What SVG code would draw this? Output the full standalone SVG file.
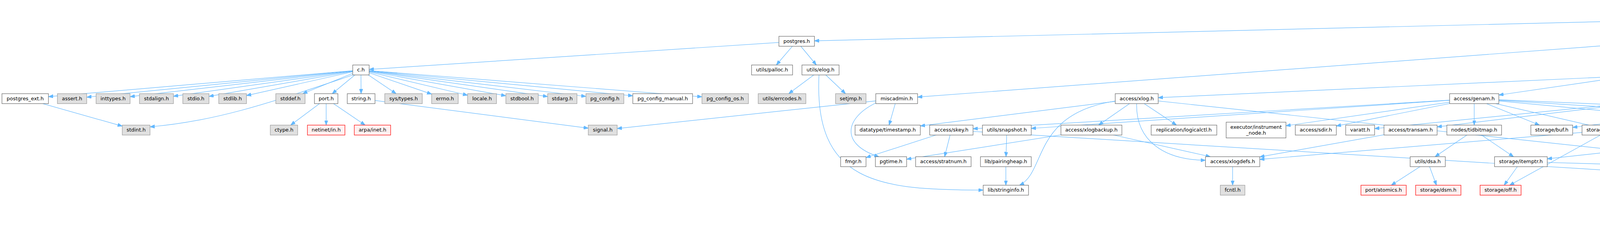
<svg xmlns="http://www.w3.org/2000/svg" width="7743" height="579" viewBox="0 0 7743 579">
<style>
text{font-family:"DejaVu Sans","Liberation Sans",sans-serif;font-size:12.9px;text-anchor:middle;fill:#000}
rect{stroke-width:1.2}
.w rect{fill:#fff;stroke:#666}
.g rect{fill:#e0e0e0;stroke:#999}
.r rect{fill:#fff0f0;stroke:#f00}
.root rect{fill:#999;stroke:#666}
#edges path{fill:none;stroke:#63b8ff;stroke-width:1.2;marker-end:url(#arr)}
</style>
<defs>
<marker id="arr" markerUnits="userSpaceOnUse" markerWidth="12" markerHeight="9" viewBox="0 0 12 9" refX="12" refY="4.5" orient="auto"><path d="M0,0 L12,4.5 L0,9 z" fill="#63b8ff" stroke="#63b8ff"/></marker>
</defs>
<rect width="7743" height="579" fill="#fff"/>
<g id="edges">
<path d="M5328.5,25.5 L2085,104.6"/>
<path d="M5328.5,25.5 L2349,248.7"/>
<path d="M5328.5,25.5 L3837,243.5"/>
<path d="M5328.5,25.5 L4343.1,240"/>
<path d="M5328.5,25.5 L4787.4,166.5"/>
<path d="M5328.5,25.5 L4856.6,240"/>
<path d="M5328.5,25.5 L5055.7,240"/>
<path d="M5328.5,25.5 L5218.5,166.5"/>
<path d="M5328.5,25.5 L5395.5,166.5"/>
<path d="M5328.5,25.5 L5654.1,240"/>
<path d="M5328.5,25.5 L6061,101.5"/>
<path d="M5328.5,25.5 L6476,100.1"/>
<path d="M5328.5,25.5 L7165,102.4"/>
<path d="M5328.5,25.5 L7416,102.5"/>
<path d="M5328.5,25.5 L7615,103.6"/>
<path d="M5328.5,25.5 L6391,170.1"/>
<path d="M2039.5,105.75 L945,177.9"/>
<path d="M2039.5,105.75 L1987.4,166.5"/>
<path d="M2039.5,105.75 L2089.9,166.5"/>
<path d="M924,179.25 L124,247.7"/>
<path d="M924,179.25 L222,249"/>
<path d="M924,179.25 L333,247.7"/>
<path d="M924,179.25 L444,246.6"/>
<path d="M924,179.25 L535,246.9"/>
<path d="M924,179.25 L631,244.8"/>
<path d="M924,179.25 L774.8,240"/>
<path d="M924,179.25 L850.4,240"/>
<path d="M924,179.25 L924.4,240"/>
<path d="M924,179.25 L1014.1,240"/>
<path d="M924,179.25 L1105,241.1"/>
<path d="M924,179.25 L1197,244"/>
<path d="M924,179.25 L1295,245.4"/>
<path d="M924,179.25 L1402,247.4"/>
<path d="M924,179.25 L1500,247"/>
<path d="M924,179.25 L1620,245.5"/>
<path d="M924,179.25 L1797,248.1"/>
<path d="M910,190 C700,260 560,310 384,325"/>
<path d="M64.5,252.75 L313,323.2"/>
<path d="M835,252.75 L744.1,320.5"/>
<path d="M835,252.75 L835,320.5"/>
<path d="M835,252.75 L934.7,320.5"/>
<path d="M924.5,252.75 L1506,328.4"/>
<path d="M2100.5,179.25 L2019.1,240"/>
<path d="M2100.5,179.25 L2164.6,240"/>
<path d="M2097,185 C2080,470 2250,487 2517,487"/>
<path d="M2295.5,252.75 L2276.1,320.5"/>
<path d="M2250,260 C2160,300 2150,370 2250,401.5"/>
<path d="M2295.5,252.75 L1580,329.3"/>
<path d="M2910,252.75 L2812.4,320.5"/>
<path d="M2910,252.75 L3011.8,320.5"/>
<path d="M2910,260 C2905,360 2980,410 3086,410.5"/>
<path d="M2860,258 C2640,290 2680,440 2610,474.5"/>
<path d="M2910,252.75 L2356,322.7"/>
<path d="M2910,252.75 L5038,480.8"/>
<path d="M2794,333.25 L3098.6,401.5"/>
<path d="M2794,333.25 L2321,407.9"/>
<path d="M3155.5,414.25 L3155.5,474.5"/>
<path d="M3611,333.25 L3225,401.9"/>
<path d="M4120.5,333.25 L3225,408.4"/>
<path d="M4120.5,333.25 L3864.6,474.5"/>
<path d="M4120.5,333.25 L6387,483.2"/>
<path d="M3774,252.75 L2491,329.9"/>
<path d="M3774,252.75 L2640,329"/>
<path d="M3774,252.75 L3292,322.2"/>
<path d="M3774,252.75 L3421,322.8"/>
<path d="M3774,252.75 L3774,320.5"/>
<path d="M3774,252.75 L3941.1,320.5"/>
<path d="M3774,252.75 L4579,328"/>
<path d="M3774,252.75 L4969,328.7"/>
<path d="M3774,252.75 L5574,330.6"/>
<path d="M3774,252.75 L4734.3,474.5"/>
<path d="M4284.5,252.75 L4579.5,320.5"/>
<path d="M4284.5,252.75 L3679,325.1"/>
<path d="M4284.5,252.75 L3519,329.5"/>
<path d="M4284.5,252.75 L4284.5,320.5"/>
<path d="M4284.5,252.75 L4146.5,320.5"/>
<path d="M4284.5,252.75 L4835.8,401.5"/>
<path d="M4284.5,333.25 L4284.5,401.5"/>
<path d="M4614,252.75 L4631.7,320.5"/>
<path d="M4614,252.75 L4511.7,320.5"/>
<path d="M4614,252.75 L4026,326.5"/>
<path d="M4614,252.75 L4861.8,401.5"/>
<path d="M4738.5,179.25 L4635.6,240"/>
<path d="M4738.5,179.25 L4643.6,320.5"/>
<path d="M4738.5,179.25 L5574,322.8"/>
<path d="M4828.5,252.75 L4665.6,320.5"/>
<path d="M4828.5,252.75 L4791.6,474.5"/>
<path d="M4828.5,252.75 L4942,474.5"/>
<path d="M4828.5,252.75 L5083.3,474.5"/>
<path d="M5039.5,252.75 L5040.4,320.5"/>
<path d="M5039.5,252.75 L5092.9,401.5"/>
<path d="M5039.5,252.75 L5574,325"/>
<path d="M5209.5,252.75 L5067.3,320.5"/>
<path d="M5209.5,252.75 L4691,325.4"/>
<path d="M5209.5,252.75 L5432.1,320.5"/>
<path d="M5209.5,252.75 L5574,321.7"/>
<path d="M5208.5,179.25 L5209.5,240"/>
<path d="M5401.5,179.25 L5242.8,240"/>
<path d="M5401.5,179.25 L5400.7,240"/>
<path d="M5400.5,252.75 L5299.5,320.5"/>
<path d="M5400.5,252.75 L5462.4,320.5"/>
<path d="M5400.5,252.75 L5597.9,320.5"/>
<path d="M5673.5,252.75 L5641.1,320.5"/>
<path d="M5673.5,252.75 L5611.8,401.5"/>
<path d="M5474,333.25 L5345.5,401.5"/>
<path d="M5474,333.25 L5585.6,401.5"/>
<path d="M5474,333.25 L5156.8,401.5"/>
<path d="M5474,333.25 L5979,404.3"/>
<path d="M5474,333.25 L5438.7,474.5"/>
<path d="M5474,333.25 L5258.9,474.5"/>
<path d="M5635,333.25 L4950,407"/>
<path d="M5635,333.25 L5452,474.5"/>
<path d="M5635,333.25 L5984.7,401.5"/>
<path d="M5097.5,414.25 L4974.5,474.5"/>
<path d="M5097.5,414.25 L4843.3,474.5"/>
<path d="M5097.5,414.25 L5097.9,474.5"/>
<path d="M5097.5,414.25 L5376.5,474.5"/>
<path d="M4883,414.25 L4661,474.5"/>
<path d="M4883,414.25 L4937.1,474.5"/>
<path d="M4883,414.25 L5060.5,474.5"/>
<path d="M4614,487.25 L4614,547.5"/>
<path d="M4614,487.25 L7077,558.4"/>
<path d="M5098,487.25 L5214.4,547.5"/>
<path d="M5239.5,487.25 L5239,547.5"/>
<path d="M5435.5,487.25 L5273.3,547.5"/>
<path d="M4635,333.25 L3961,406.9"/>
<path d="M3893.5,414.25 L3850.6,474.5"/>
<path d="M3893.5,414.25 L6387,485.5"/>
<path d="M3774,333.25 L3673.7,401.5"/>
<path d="M3774,333.25 L3874.7,401.5"/>
<path d="M3655,414.25 L3561.7,474.5"/>
<path d="M3655,414.25 L3677.3,474.5"/>
<path d="M2435.5,333.25 L2217,403.8"/>
<path d="M2435.5,333.25 L2418.2,401.5"/>
<path d="M2435.5,333.25 L4884,483.3"/>
<path d="M2577.5,333.25 L2575.4,401.5"/>
<path d="M2575,414.25 L2575,474.5"/>
<path d="M6102,105.75 L2965,250.2"/>
<path d="M6102,105.75 L4933.4,401.5"/>
<path d="M6102,105.75 L6396.3,166.5"/>
<path d="M6102,105.75 L6783.8,240"/>
<path d="M6102,105.75 L6796,172.3"/>
<path d="M6102,105.75 L5952,166.5"/>
<path d="M6102,105.75 L5457.8,474.5"/>
<path d="M6102,105.75 L5627,401.5"/>
<path d="M6102,105.75 L5797.6,401.5"/>
<path d="M6102,105.75 L6436.9,474.5"/>
<path d="M6102,105.75 L6314.4,320.5"/>
<path d="M6102,105.75 L6601,171.4"/>
<path d="M6102,105.75 L5661.2,320.5"/>
<path d="M6102,105.75 L6184.7,166.5"/>
<path d="M6458,179.25 L6780.8,240"/>
<path d="M6458,179.25 L5696,321.8"/>
<path d="M5920.5,179.25 L5918,240"/>
<path d="M5920.5,179.25 L5298,243.6"/>
<path d="M5946,185 C6150,330 6250,480 6600,520 C6800,542 6950,553 7077,556"/>
<path d="M6660.5,179.25 L6632,240"/>
<path d="M6660.5,179.25 L6474.5,240"/>
<path d="M6660.5,179.25 L6354.6,320.5"/>
<path d="M6680,185 C6720,260 6650,400 6470,474.5"/>
<path d="M6626,252.75 L6374.4,320.5"/>
<path d="M6626,252.75 L6458.2,474.5"/>
<path d="M6327,333.25 L6093.6,401.5"/>
<path d="M6327,333.25 L6328.7,401.5"/>
<path d="M6050,414.25 L6044.6,474.5"/>
<path d="M6848.5,252.75 L6854,320.5"/>
<path d="M6873,265 C7000,340 7080,450 7128,547.5"/>
<path d="M6868.5,179.25 L6997.5,240"/>
<path d="M6920,192 C7080,225 7141,250 7141,300 L7141,547.5"/>
<path d="M6563.5,105.75 L6974.7,166.5"/>
<path d="M6600,110 C7000,130 7190,150 7192,240 L7192,430 C7192,480 7170,520 7150,547.5"/>
<path d="M6563.5,105.75 L5290,174.8"/>
<path d="M6563.5,105.75 L5147,474.5"/>
<path d="M7244,105.75 L7346.5,166.5"/>
<path d="M7244,118.5 L7244,420 C7244,470 7200,510 7160,547.5"/>
<path d="M7244,105.75 L5298,246.4"/>
<path d="M7503,105.75 L7560.4,166.5"/>
<path d="M7585,112 C7700,150 7705,250 7705,300 C7705,500 7400,550 7208,556"/>
<path d="M5784.5,414.25 L5013,481.6"/>
<path d="M5784.5,414.25 L5158,480.9"/>
</g>
<g id="n_root" class="root"><rect x="5253" y="5.2" width="151" height="40.6"/><text x="5328.5" y="21.3">src/backend/catalog</text><text x="5328.5" y="36">/pg_depend.c</text></g>
<g id="n_postgres_h" class="w"><rect x="1994" y="93" width="91" height="25.5"/><text x="2039.5" y="109.5">postgres.h</text></g>
<g id="n_utils_rel_h" class="w"><rect x="6061" y="93" width="82" height="25.5"/><text x="6102" y="109.5">utils/rel.h</text></g>
<g id="n_pg_constraint_h" class="w"><rect x="6476" y="93" width="175" height="25.5"/><text x="6563.5" y="109.5">catalog/pg_constraint.h</text></g>
<g id="n_pg_depend_h" class="w"><rect x="7165" y="93" width="158" height="25.5"/><text x="7244" y="109.5">catalog/pg_depend.h</text></g>
<g id="n_pg_extension_h" class="w"><rect x="7416" y="93" width="174" height="25.5"/><text x="7503" y="109.5">catalog/pg_extension.h</text></g>
<g id="n_fmgroids_h" class="g"><rect x="7615" y="93" width="125" height="25.5"/><text x="7677.5" y="109.5">utils/fmgroids.h</text></g>
<g id="n_c_h" class="w"><rect x="903" y="166.5" width="42" height="25.5"/><text x="924" y="183">c.h</text></g>
<g id="n_palloc_h" class="w"><rect x="1924" y="166.5" width="105" height="25.5"/><text x="1976.5" y="183">utils/palloc.h</text></g>
<g id="n_elog_h" class="w"><rect x="2053" y="166.5" width="95" height="25.5"/><text x="2100.5" y="183">utils/elog.h</text></g>
<g id="n_indexing_h" class="w"><rect x="4667" y="166.5" width="143" height="25.5"/><text x="4738.5" y="183">catalog/indexing.h</text></g>
<g id="n_dependency_h" class="w"><rect x="5127" y="166.5" width="163" height="25.5"/><text x="5208.5" y="183">catalog/dependency.h</text></g>
<g id="n_extension_h" class="w"><rect x="5314" y="166.5" width="175" height="25.5"/><text x="5401.5" y="183">commands/extension.h</text></g>
<g id="n_pg_publication_h" class="w"><rect x="5830" y="166.5" width="181" height="25.5"/><text x="5920.5" y="183">catalog/pg_publication.h</text></g>
<g id="n_reltrigger_h" class="w"><rect x="6139" y="166.5" width="126" height="25.5"/><text x="6202" y="183">utils/reltrigger.h</text></g>
<g id="n_catalog_h" class="w"><rect x="6391" y="166.5" width="134" height="25.5"/><text x="6458" y="183">catalog/catalog.h</text></g>
<g id="n_smgr_h" class="w"><rect x="6601" y="166.5" width="119" height="25.5"/><text x="6660.5" y="183">storage/smgr.h</text></g>
<g id="n_pg_index_h" class="w"><rect x="6796" y="166.5" width="145" height="25.5"/><text x="6868.5" y="183">catalog/pg_index.h</text></g>
<g id="n_pg_constraint_d_h" class="g"><rect x="6966" y="166.5" width="190" height="25.5"/><text x="7061" y="183">catalog/pg_constraint_d.h</text></g>
<g id="n_pg_depend_d_h" class="g"><rect x="7281" y="166.5" width="174" height="25.5"/><text x="7368" y="183">catalog/pg_depend_d.h</text></g>
<g id="n_pg_extension_d_h" class="g"><rect x="7478" y="166.5" width="189" height="25.5"/><text x="7572.5" y="183">catalog/pg_extension_d.h</text></g>
<g id="n_postgres_ext_h" class="w"><rect x="5" y="240" width="119" height="25.5"/><text x="64.5" y="256.5">postgres_ext.h</text></g>
<g id="n_assert_h" class="g"><rect x="147" y="240" width="75" height="25.5"/><text x="184.5" y="256.5">assert.h</text></g>
<g id="n_inttypes_h" class="g"><rect x="246" y="240" width="87" height="25.5"/><text x="289.5" y="256.5">inttypes.h</text></g>
<g id="n_stdalign_h" class="g"><rect x="357" y="240" width="87" height="25.5"/><text x="400.5" y="256.5">stdalign.h</text></g>
<g id="n_stdio_h" class="g"><rect x="468" y="240" width="67" height="25.5"/><text x="501.5" y="256.5">stdio.h</text></g>
<g id="n_stdlib_h" class="g"><rect x="560" y="240" width="71" height="25.5"/><text x="595.5" y="256.5">stdlib.h</text></g>
<g id="n_stddef_h" class="g"><rect x="706" y="240" width="75" height="25.5"/><text x="743.5" y="256.5">stddef.h</text></g>
<g id="n_port_h" class="w"><rect x="805" y="240" width="60" height="25.5"/><text x="835" y="256.5">port.h</text></g>
<g id="n_string_h" class="w"><rect x="889" y="240" width="71" height="25.5"/><text x="924.5" y="256.5">string.h</text></g>
<g id="n_sys_types_h" class="g"><rect x="985" y="240" width="96" height="25.5"/><text x="1033" y="256.5">sys/types.h</text></g>
<g id="n_errno_h" class="g"><rect x="1105" y="240" width="68" height="25.5"/><text x="1139" y="256.5">errno.h</text></g>
<g id="n_locale_h" class="g"><rect x="1197" y="240" width="74" height="25.5"/><text x="1234" y="256.5">locale.h</text></g>
<g id="n_stdbool_h" class="g"><rect x="1295" y="240" width="83" height="25.5"/><text x="1336.5" y="256.5">stdbool.h</text></g>
<g id="n_stdarg_h" class="g"><rect x="1402" y="240" width="75" height="25.5"/><text x="1439.5" y="256.5">stdarg.h</text></g>
<g id="n_pg_config_h" class="g"><rect x="1500" y="240" width="97" height="25.5"/><text x="1548.5" y="256.5">pg_config.h</text></g>
<g id="n_pg_config_manual_h" class="w"><rect x="1620" y="240" width="153" height="25.5"/><text x="1696.5" y="256.5">pg_config_manual.h</text></g>
<g id="n_pg_config_os_h" class="g"><rect x="1797" y="240" width="119" height="25.5"/><text x="1856.5" y="256.5">pg_config_os.h</text></g>
<g id="n_errcodes_h" class="g"><rect x="1941" y="240" width="122" height="25.5"/><text x="2002" y="256.5">utils/errcodes.h</text></g>
<g id="n_setjmp_h" class="g"><rect x="2139" y="240" width="78" height="25.5"/><text x="2178" y="256.5">setjmp.h</text></g>
<g id="n_miscadmin_h" class="w"><rect x="2242" y="240" width="107" height="25.5"/><text x="2295.5" y="256.5">miscadmin.h</text></g>
<g id="n_xlog_h" class="w"><rect x="2855" y="240" width="110" height="25.5"/><text x="2910" y="256.5">access/xlog.h</text></g>
<g id="n_genam_h" class="w"><rect x="3711" y="240" width="126" height="25.5"/><text x="3774" y="256.5">access/genam.h</text></g>
<g id="n_htup_details_h" class="w"><rect x="4203" y="240" width="163" height="25.5"/><text x="4284.5" y="256.5">access/htup_details.h</text></g>
<g id="n_tuptable_h" class="w"><rect x="4540" y="240" width="148" height="25.5"/><text x="4614" y="256.5">executor/tuptable.h</text></g>
<g id="n_lsyscache_h" class="w"><rect x="4763" y="240" width="131" height="25.5"/><text x="4828.5" y="256.5">utils/lsyscache.h</text></g>
<g id="n_table_h" class="w"><rect x="4982" y="240" width="115" height="25.5"/><text x="5039.5" y="256.5">access/table.h</text></g>
<g id="n_objectaddress_h" class="w"><rect x="5121" y="240" width="177" height="25.5"/><text x="5209.5" y="256.5">catalog/objectaddress.h</text></g>
<g id="n_parse_node_h" class="w"><rect x="5323" y="240" width="155" height="25.5"/><text x="5400.5" y="256.5">parser/parse_node.h</text></g>
<g id="n_partition_h" class="w"><rect x="5603" y="240" width="141" height="25.5"/><text x="5673.5" y="256.5">catalog/partition.h</text></g>
<g id="n_pg_publication_d_h" class="g"><rect x="5819" y="240" width="197" height="25.5"/><text x="5917.5" y="256.5">catalog/pg_publication_d.h</text></g>
<g id="n_ilist_h" class="w"><rect x="6396" y="240" width="79" height="25.5"/><text x="6435.5" y="256.5">lib/ilist.h</text></g>
<g id="n_aio_types_h" class="w"><rect x="6551" y="240" width="150" height="25.5"/><text x="6626" y="256.5">storage/aio_types.h</text></g>
<g id="n_pg_class_h" class="w"><rect x="6777" y="240" width="143" height="25.5"/><text x="6848.5" y="256.5">catalog/pg_class.h</text></g>
<g id="n_pg_index_d_h" class="g"><rect x="6944" y="240" width="161" height="25.5"/><text x="7024.5" y="256.5">catalog/pg_index_d.h</text></g>
<g id="n_stdint_h" class="g"><rect x="313" y="320.5" width="71" height="25.5"/><text x="348.5" y="337">stdint.h</text></g>
<g id="n_ctype_h" class="g"><rect x="692" y="320.5" width="70" height="25.5"/><text x="727" y="337">ctype.h</text></g>
<g id="n_netinet_in_h" class="r"><rect x="787" y="320.5" width="96" height="25.5"/><text x="835" y="337">netinet/in.h</text></g>
<g id="n_arpa_inet_h" class="r"><rect x="907" y="320.5" width="93" height="25.5"/><text x="953.5" y="337">arpa/inet.h</text></g>
<g id="n_signal_h" class="g"><rect x="1506" y="320.5" width="74" height="25.5"/><text x="1543" y="337">signal.h</text></g>
<g id="n_timestamp_h" class="w"><rect x="2189" y="320.5" width="167" height="25.5"/><text x="2272.5" y="337">datatype/timestamp.h</text></g>
<g id="n_skey_h" class="w"><rect x="2380" y="320.5" width="111" height="25.5"/><text x="2435.5" y="337">access/skey.h</text></g>
<g id="n_snapshot_h" class="w"><rect x="2515" y="320.5" width="125" height="25.5"/><text x="2577.5" y="337">utils/snapshot.h</text></g>
<g id="n_xlogbackup_h" class="w"><rect x="2716" y="320.5" width="156" height="25.5"/><text x="2794" y="337">access/xlogbackup.h</text></g>
<g id="n_logicalctl_h" class="w"><rect x="2947" y="320.5" width="168" height="25.5"/><text x="3031" y="337">replication/logicalctl.h</text></g>
<g id="n_instrument_node_h" class="w"><rect x="3139" y="313" width="153" height="40.4"/><text x="3215.5" y="330">executor/instrument</text><text x="3215.5" y="344.5">_node.h</text></g>
<g id="n_sdir_h" class="w"><rect x="3316" y="320.5" width="105" height="25.5"/><text x="3368.5" y="337">access/sdir.h</text></g>
<g id="n_varatt_h" class="w"><rect x="3445" y="320.5" width="74" height="25.5"/><text x="3482" y="337">varatt.h</text></g>
<g id="n_transam_h" class="w"><rect x="3543" y="320.5" width="136" height="25.5"/><text x="3611" y="337">access/transam.h</text></g>
<g id="n_tidbitmap_h" class="w"><rect x="3704" y="320.5" width="140" height="25.5"/><text x="3774" y="337">nodes/tidbitmap.h</text></g>
<g id="n_buf_h" class="w"><rect x="3919" y="320.5" width="107" height="25.5"/><text x="3972.5" y="337">storage/buf.h</text></g>
<g id="n_bufpage_h" class="w"><rect x="4050" y="320.5" width="141" height="25.5"/><text x="4120.5" y="337">storage/bufpage.h</text></g>
<g id="n_tupmacs_h" class="w"><rect x="4215" y="320.5" width="139" height="25.5"/><text x="4284.5" y="337">access/tupmacs.h</text></g>
<g id="n_sysattr_h" class="w"><rect x="4429" y="320.5" width="127" height="25.5"/><text x="4492.5" y="337">access/sysattr.h</text></g>
<g id="n_htup_h" class="w"><rect x="4579" y="320.5" width="112" height="25.5"/><text x="4635" y="337">access/htup.h</text></g>
<g id="n_lockdefs_h" class="w"><rect x="4969" y="320.5" width="143" height="25.5"/><text x="5040.5" y="337">storage/lockdefs.h</text></g>
<g id="n_queryenvironment_h" class="w"><rect x="5187" y="320.5" width="187" height="25.5"/><text x="5280.5" y="337">utils/queryenvironment.h</text></g>
<g id="n_parsenodes_h" class="w"><rect x="5398" y="320.5" width="152" height="25.5"/><text x="5474" y="337">nodes/parsenodes.h</text></g>
<g id="n_relcache_h" class="w"><rect x="5574" y="320.5" width="122" height="25.5"/><text x="5635" y="337">utils/relcache.h</text></g>
<g id="n_relfilelocator_h" class="w"><rect x="6243" y="320.5" width="168" height="25.5"/><text x="6327" y="337">storage/relfilelocator.h</text></g>
<g id="n_pg_class_d_h" class="g"><rect x="6776" y="320.5" width="158" height="25.5"/><text x="6855" y="337">catalog/pg_class_d.h</text></g>
<g id="n_fmgr_h" class="w"><rect x="2152" y="401.5" width="65" height="25.5"/><text x="2184.5" y="418">fmgr.h</text></g>
<g id="n_pgtime_h" class="w"><rect x="2241" y="401.5" width="80" height="25.5"/><text x="2281" y="418">pgtime.h</text></g>
<g id="n_stratnum_h" class="w"><rect x="2344" y="401.5" width="142" height="25.5"/><text x="2415" y="418">access/stratnum.h</text></g>
<g id="n_pairingheap_h" class="w"><rect x="2510" y="401.5" width="130" height="25.5"/><text x="2575" y="418">lib/pairingheap.h</text></g>
<g id="n_xlogdefs_h" class="w"><rect x="3086" y="401.5" width="139" height="25.5"/><text x="3155.5" y="418">access/xlogdefs.h</text></g>
<g id="n_dsa_h" class="w"><rect x="3610" y="401.5" width="90" height="25.5"/><text x="3655" y="418">utils/dsa.h</text></g>
<g id="n_itemptr_h" class="w"><rect x="3826" y="401.5" width="135" height="25.5"/><text x="3893.5" y="418">storage/itemptr.h</text></g>
<g id="n_pg_type_d_h" class="g"><rect x="4208" y="401.5" width="153" height="25.5"/><text x="4284.5" y="418">catalog/pg_type_d.h</text></g>
<g id="n_tupdesc_h" class="w"><rect x="4816" y="401.5" width="134" height="25.5"/><text x="4883" y="418">access/tupdesc.h</text></g>
<g id="n_primnodes_h" class="w"><rect x="5024" y="401.5" width="147" height="25.5"/><text x="5097.5" y="418">nodes/primnodes.h</text></g>
<g id="n_lockoptions_h" class="w"><rect x="5246" y="401.5" width="151" height="25.5"/><text x="5321.5" y="418">nodes/lockoptions.h</text></g>
<g id="n_partdefs_h" class="w"><rect x="5523" y="401.5" width="167" height="25.5"/><text x="5606.5" y="418">partitioning/partdefs.h</text></g>
<g id="n_prs2lock_h" class="w"><rect x="5715" y="401.5" width="139" height="25.5"/><text x="5784.5" y="418">rewrite/prs2lock.h</text></g>
<g id="n_relpath_h" class="w"><rect x="5979" y="401.5" width="142" height="25.5"/><text x="6050" y="418">common/relpath.h</text></g>
<g id="n_procnumber_h" class="w"><rect x="6247" y="401.5" width="164" height="25.5"/><text x="6329" y="418">storage/procnumber.h</text></g>
<g id="n_stringinfo_h" class="w"><rect x="2517" y="474.5" width="116" height="25.5"/><text x="2575" y="491">lib/stringinfo.h</text></g>
<g id="n_fcntl_h" class="g"><rect x="3124" y="474.5" width="63" height="25.5"/><text x="3155.5" y="491">fcntl.h</text></g>
<g id="n_atomics_h" class="r"><rect x="3484" y="474.5" width="116" height="25.5"/><text x="3542" y="491">port/atomics.h</text></g>
<g id="n_dsm_h" class="r"><rect x="3624" y="474.5" width="116" height="25.5"/><text x="3682" y="491">storage/dsm.h</text></g>
<g id="n_off_h" class="r"><rect x="3789" y="474.5" width="105" height="25.5"/><text x="3841.5" y="491">storage/off.h</text></g>
<g id="n_pg_attribute_h" class="w"><rect x="4531" y="474.5" width="166" height="25.5"/><text x="4614" y="491">catalog/pg_attribute.h</text></g>
<g id="n_cmptype_h" class="w"><rect x="4720" y="474.5" width="139" height="25.5"/><text x="4789.5" y="491">access/cmptype.h</text></g>
<g id="n_attnum_h" class="w"><rect x="4884" y="474.5" width="129" height="25.5"/><text x="4948.5" y="491">access/attnum.h</text></g>
<g id="n_pg_list_h" class="w"><rect x="5038" y="474.5" width="120" height="25.5"/><text x="5098" y="491">nodes/pg_list.h</text></g>
<g id="n_value_h" class="w"><rect x="5183" y="474.5" width="113" height="25.5"/><text x="5239.5" y="491">nodes/value.h</text></g>
<g id="n_bitmapset_h" class="w"><rect x="5364" y="474.5" width="143" height="25.5"/><text x="5435.5" y="491">nodes/bitmapset.h</text></g>
<g id="n_catversion_h" class="w"><rect x="5966" y="474.5" width="155" height="25.5"/><text x="6043.5" y="491">catalog/catversion.h</text></g>
<g id="n_block_h" class="w"><rect x="6387" y="474.5" width="123" height="25.5"/><text x="6448.5" y="491">storage/block.h</text></g>
<g id="n_pg_attribute_d_h" class="g"><rect x="4524" y="547.5" width="180" height="25.5"/><text x="4614" y="564">catalog/pg_attribute_d.h</text></g>
<g id="n_nodes_h" class="r"><rect x="5181" y="547.5" width="116" height="25.5"/><text x="5239" y="564">nodes/nodes.h</text></g>
<g id="n_genbki_h" class="w"><rect x="7077" y="547.5" width="131" height="25.5"/><text x="7142.5" y="564">catalog/genbki.h</text></g>
</svg>
